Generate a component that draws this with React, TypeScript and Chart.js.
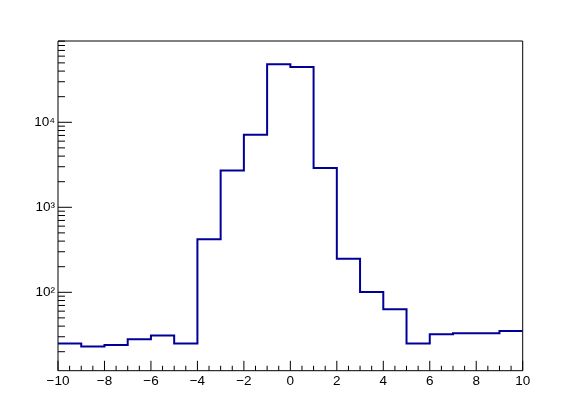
import React, { useEffect, useRef } from "react";
import { Chart, registerables } from "chart.js";

Chart.register(...registerables);

// Histogram: 20 bins of width 1 from -10 to 10 (low edges) and their contents
const binLowEdges = [-10, -9, -8, -7, -6, -5, -4, -3, -2, -1, 0, 1, 2, 3, 4, 5, 6, 7, 8, 9];
const binUpperEdge = 10;
const binCounts = [25, 23, 24, 28, 31, 25, 421, 2700, 7140, 48100, 44800, 2900, 248, 101, 63, 25, 32, 33, 33, 35];

// Axes
const xMin = -10;
const xMax = 10;
const yMin = 11.96;
const yMax = 90400;
const xLabelValues = [-10, -8, -6, -4, -2, 0, 2, 4, 6, 8, 10];
const xMinorStep = 0.5;
const yLabelValues = [100, 1000, 10000];
const yTickLabels = ["10²", "10³", "10⁴"];
const yDecades = [1, 10, 100, 1000, 10000];

const W = 581;
const H = 413;
const AREA_LEFT = 58;
const AREA_RIGHT = 522.7;
const AREA_TOP = 41;
const AREA_BOTTOM = 370.7;

const FONT = { family: "'Liberation Sans', Arial, Helvetica, sans-serif", size: 13.5 };

const fmtX = (v: number) => (v < 0 ? "\u2212" + Math.abs(v) : String(v));

const rootFramePlugin = {
  id: "rootFrame",
  afterDatasetsDraw(chart: any) {
    const { ctx, chartArea: a, scales } = chart;
    const xs = scales.x;
    const ys = scales.y;
    const xMajorLen = 0.03 * (a.bottom - a.top);
    const yMajorLen = 0.03 * (a.right - a.left);
    ctx.save();
    ctx.strokeStyle = "#000";
    ctx.lineWidth = 1;
    ctx.beginPath();
    ctx.rect(a.left, a.top, a.right - a.left, a.bottom - a.top);
    // x ticks (inside, from bottom axis)
    const nMinor = Math.round((xMax - xMin) / xMinorStep);
    for (let i = 0; i <= nMinor; i++) {
      const v = xMin + i * xMinorStep;
      const px = xs.getPixelForValue(v);
      const major = xLabelValues.some((m) => Math.abs(m - v) < 1e-9);
      const len = major ? xMajorLen : xMajorLen / 2;
      ctx.moveTo(px, a.bottom);
      ctx.lineTo(px, a.bottom - len);
    }
    // y ticks (log)
    for (const d of yDecades) {
      for (let k = 1; k <= 9; k++) {
        const v = d * k;
        if (v < yMin || v > yMax) continue;
        const py = ys.getPixelForValue(v);
        const len = k === 1 ? yMajorLen : yMajorLen / 2;
        ctx.moveTo(a.left, py);
        ctx.lineTo(a.left + len, py);
      }
    }
    ctx.stroke();
    ctx.restore();
  },
};

export default function App() {
  const ref = useRef<HTMLCanvasElement | null>(null);

  useEffect(() => {
    if (!ref.current) return;
    const points = binLowEdges.map((x, i) => ({ x, y: binCounts[i] }));
    points.push({ x: binUpperEdge, y: binCounts[binCounts.length - 1] });

    const chart = new Chart(ref.current, {
      type: "line",
      data: {
        datasets: [
          {
            data: points,
            stepped: "before",
            borderColor: "#000099",
            borderWidth: 2,
            pointRadius: 0,
            fill: false,
            borderJoinStyle: "miter",
          } as any,
        ],
      },
      options: {
        animation: false,
        responsive: false,
        devicePixelRatio: 1,
        events: [],
        layout: { padding: { top: AREA_TOP, right: W - AREA_RIGHT, left: 0, bottom: 0 } },
        plugins: { legend: { display: false }, tooltip: { enabled: false }, title: { display: false } },
        scales: {
          x: {
            type: "linear",
            min: xMin,
            max: xMax,
            grid: { display: false, drawTicks: false },
            border: { display: false },
            afterBuildTicks: (s: any) => {
              s.ticks = xLabelValues.map((v) => ({ value: v }));
            },
            afterFit: (s: any) => {
              s.height = H - AREA_BOTTOM;
            },
            ticks: {
              callback: (v: any) => fmtX(Number(v)),
              font: FONT,
              color: "#000",
              padding: 2,
              autoSkip: false,
              maxRotation: 0,
              minRotation: 0,
            },
          },
          y: {
            type: "logarithmic",
            min: yMin,
            max: yMax,
            grid: { display: false, drawTicks: false },
            border: { display: false },
            afterBuildTicks: (s: any) => {
              s.ticks = yLabelValues.map((v) => ({ value: v }));
            },
            afterFit: (s: any) => {
              s.width = AREA_LEFT;
            },
            ticks: {
              callback: (_v: any, i: number) => yTickLabels[i],
              font: FONT,
              color: "#000",
              padding: 3,
              autoSkip: false,
            },
          },
        },
      },
      plugins: [rootFramePlugin],
    });
    return () => chart.destroy();
  }, []);

  return (
    <div style={{ position: "absolute", left: 0, top: 0, width: W, height: H, background: "#fff" }}>
      <canvas ref={ref} width={W} height={H} style={{ display: "block" }} />
    </div>
  );
}
